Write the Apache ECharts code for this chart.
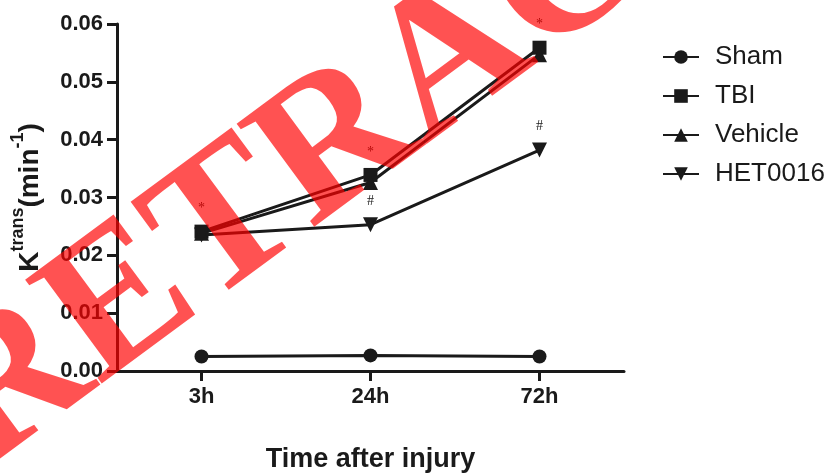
<!DOCTYPE html>
<html>
<head>
<meta charset="utf-8">
<script src="https://cdn.jsdelivr.net/npm/echarts@6/dist/echarts.min.js"></script>
<style>
html,body{margin:0;padding:0;background:#fff;}
#chart{width:829px;height:473px;}
</style>
</head>
<body>
<div id="chart"></div>
<script>
// ---- data ----
const categories = ['3h', '24h', '72h'];
const shamValues = [0.0025, 0.0027, 0.0025];
const tbiValues = [0.0241, 0.0339, 0.0559];
const vehicleValues = [0.0238, 0.0326, 0.0547];
const het0016Values = [0.0235, 0.0253, 0.0382];
const tbiMarks = ['*', '*', '*'];
const hetMarks = ['', '#', '#'];
const yTicks = [0, 0.01, 0.02, 0.03, 0.04, 0.05, 0.06];
const watermarkText = 'RETRACTED';

const INK = '#1a1a1a';
const SANS = '"Liberation Sans", Arial, sans-serif';

function lineSeries(name, data, symbol, size, rotate, marks) {
  return {
    name: name,
    type: 'line',
    data: data,
    symbol: symbol,
    symbolSize: size,
    symbolRotate: rotate,
    showAllSymbol: true,
    lineStyle: {color: INK, width: 3},
    itemStyle: {color: INK},
    label: marks ? {
      show: true,
      position: 'top',
      distance: 9,
      fontFamily: '"Liberation Serif", serif',
      fontSize: 14,
      color: INK,
      formatter: p => marks[p.dataIndex]
    } : {show: false},
    emphasis: {disabled: true}
  };
}

const chart = echarts.init(document.getElementById('chart'), null, {renderer: 'canvas'});
chart.setOption({
  animation: false,
  backgroundColor: '#ffffff',
  grid: {left: 117, right: 205, top: 24, bottom: 102, containLabel: false, outerBoundsMode: 'none'},
  legend: {
    orient: 'vertical',
    left: 657,
    top: 39,
    itemWidth: 36,
    itemHeight: 17,
    itemGap: 13,
    textStyle: {fontFamily: SANS, fontSize: 26, color: INK, lineHeight: 26, padding: [0, 0, 0, 11]},
    data: ['Sham', 'TBI', 'Vehicle', 'HET0016']
  },
  xAxis: {
    type: 'category',
    data: categories,
    boundaryGap: true,
    name: 'Time after injury',
    nameLocation: 'middle',
    nameGap: 75,
    nameTextStyle: {fontFamily: SANS, fontWeight: 'bold', fontSize: 27, color: INK},
    axisLine: {show: true, lineStyle: {color: INK, width: 3}},
    axisTick: {show: true, alignWithLabel: true, length: 10, lineStyle: {color: INK, width: 3}},
    axisLabel: {fontFamily: SANS, fontWeight: 'bold', fontSize: 22, color: INK, margin: 15},
    splitLine: {show: false}
  },
  yAxis: {
    type: 'value',
    min: yTicks[0],
    max: yTicks[yTicks.length - 1],
    interval: 0.01,
    name: '{m|K}{s|trans}{m|(min}{s|-1}{m|)}',
    nameLocation: 'middle',
    nameRotate: 90,
    nameGap: 73,
    nameTextStyle: {
      color: INK,
      rich: {
        m: {fontFamily: SANS, fontWeight: 'bold', fontSize: 28, color: INK, lineHeight: 35, verticalAlign: 'bottom'},
        s: {fontFamily: SANS, fontWeight: 'bold', fontSize: 18, color: INK, lineHeight: 19, verticalAlign: 'top'}
      }
    },
    axisLine: {show: true, onZero: false, lineStyle: {color: INK, width: 3}},
    axisTick: {show: true, length: 10, lineStyle: {color: INK, width: 3}},
    axisLabel: {fontFamily: SANS, fontWeight: 'bold', fontSize: 22, color: INK, margin: 14,
      formatter: v => v.toFixed(2)},
    splitLine: {show: false}
  },
  series: [
    lineSeries('Sham', shamValues, 'circle', 14, 0, null),
    lineSeries('TBI', tbiValues, 'rect', 14, 0, tbiMarks),
    lineSeries('Vehicle', vehicleValues, 'triangle', 15, 0, null),
    lineSeries('HET0016', het0016Values, 'triangle', 15, 180, hetMarks)
  ],
  graphic: {
    elements: [{
      type: 'text',
      x: 452,
      y: 62,
      rotation: 36.4 * Math.PI / 180,
      z: 100,
      silent: true,
      style: {
        text: watermarkText,
        font: 'bold 197px "Liberation Serif", "Times New Roman", serif',
        fill: 'rgba(255,0,0,0.68)',
        textAlign: 'center',
        textVerticalAlign: 'middle'
      }
    }]
  }
});
</script>
</body>
</html>
